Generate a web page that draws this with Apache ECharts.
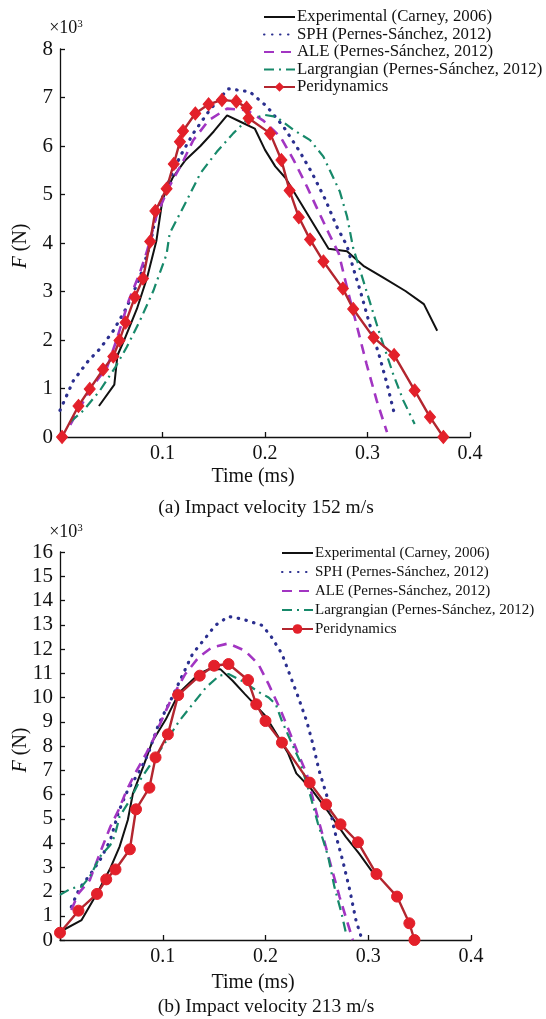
<!DOCTYPE html>
<html>
<head>
<meta charset="utf-8">
<script src="https://cdn.jsdelivr.net/npm/echarts@6/dist/echarts.min.js"></script>
<style>
html,body{margin:0;padding:0;background:#fff;}
#chart{width:546px;height:1019px;}
</style>
</head>
<body>
<div id="chart"></div>
<script>
// ---------- data (time in ms, force in x10^3 N) ----------
const seriesNames = ['Experimental (Carney, 2006)','SPH (Pernes-Sánchez, 2012)','ALE (Pernes-Sánchez, 2012)','Largrangian (Pernes-Sánchez, 2012)','Peridynamics'];
const xTicks = [0, 0.1, 0.2, 0.3, 0.4];
const yMaxA = 8, yMaxB = 16;

// (a) Impact velocity 152 m/s
const expA = [[0.038,0.64],[0.053,1.08],[0.056,1.68],[0.063,2.02],[0.075,2.64],[0.085,3.29],[0.094,4.04],[0.100,4.90],[0.110,5.35],[0.122,5.70],[0.137,6.00],[0.150,6.30],[0.163,6.63],[0.176,6.50],[0.190,6.36],[0.200,5.92],[0.210,5.58],[0.220,5.34],[0.239,4.68],[0.262,3.88],[0.280,3.83],[0.296,3.53],[0.315,3.29],[0.337,3.01],[0.355,2.74],[0.368,2.19]];
const sphA = [[0.000,0.55],[0.013,1.16],[0.028,1.58],[0.039,1.82],[0.052,2.19],[0.065,2.67],[0.078,3.29],[0.088,3.97],[0.094,4.62],[0.104,5.16],[0.117,5.78],[0.130,6.26],[0.146,6.74],[0.164,7.18],[0.185,7.12],[0.202,6.81],[0.218,6.40],[0.234,5.88],[0.246,5.44],[0.259,4.89],[0.270,4.34],[0.280,3.94],[0.286,3.49],[0.293,3.01],[0.302,2.33],[0.312,1.64],[0.319,1.10],[0.327,0.41]];
const aleA = [[0.010,0.25],[0.016,0.48],[0.031,1.03],[0.046,1.44],[0.055,1.99],[0.067,2.81],[0.078,3.39],[0.085,3.84],[0.094,4.55],[0.105,5.10],[0.119,5.64],[0.130,6.12],[0.145,6.53],[0.163,6.77],[0.182,6.74],[0.198,6.53],[0.215,6.19],[0.228,5.71],[0.241,5.16],[0.250,4.75],[0.262,4.21],[0.272,3.78],[0.280,3.08],[0.290,2.26],[0.299,1.51],[0.309,0.75],[0.319,0.10]];
const larA = [[0.010,0.31],[0.023,0.55],[0.039,0.96],[0.054,1.44],[0.065,1.85],[0.078,2.40],[0.091,3.01],[0.104,3.77],[0.107,4.20],[0.124,4.89],[0.137,5.44],[0.153,5.88],[0.169,6.26],[0.182,6.53],[0.200,6.64],[0.211,6.60],[0.228,6.33],[0.244,6.12],[0.257,5.78],[0.273,5.06],[0.280,4.55],[0.286,3.90],[0.299,3.01],[0.312,2.12],[0.325,1.30],[0.335,0.75],[0.346,0.27]];
const periA = [[0.002,0],[0.018,0.64],[0.029,0.99],[0.042,1.39],[0.052,1.66],[0.058,1.99],[0.064,2.36],[0.073,2.88],[0.081,3.27],[0.088,4.03],[0.093,4.66],[0.104,5.12],[0.111,5.63],[0.117,6.09],[0.120,6.31],[0.132,6.67],[0.145,6.86],[0.158,6.95],[0.172,6.92],[0.182,6.79],[0.184,6.57],[0.205,6.26],[0.216,5.71],[0.224,5.08],[0.233,4.53],[0.244,4.07],[0.257,3.62],[0.276,3.06],[0.286,2.64],[0.306,2.05],[0.326,1.69],[0.346,0.96],[0.361,0.41],[0.374,0]];

// (b) Impact velocity 213 m/s
const expB = [[0.000,0.34],[0.021,0.82],[0.036,1.92],[0.049,2.96],[0.058,3.85],[0.066,4.95],[0.071,6.05],[0.081,7.15],[0.090,8.20],[0.103,9.10],[0.116,10.20],[0.135,10.97],[0.145,11.17],[0.156,11.17],[0.168,10.69],[0.180,10.14],[0.200,9.24],[0.213,8.34],[0.222,7.70],[0.230,6.87],[0.244,6.25],[0.261,5.29],[0.278,4.26],[0.291,3.57],[0.305,2.75]];
const sphB = [[0.011,1.37],[0.019,2.13],[0.029,2.68],[0.039,3.30],[0.049,4.12],[0.057,5.29],[0.066,6.19],[0.078,7.00],[0.086,7.70],[0.096,8.90],[0.109,10.00],[0.122,11.17],[0.129,11.80],[0.142,12.48],[0.151,12.97],[0.164,13.34],[0.177,13.24],[0.197,12.97],[0.206,12.48],[0.216,11.80],[0.224,10.90],[0.232,10.00],[0.240,9.03],[0.246,8.10],[0.252,7.01],[0.261,5.77],[0.267,4.54],[0.275,3.30],[0.282,2.06],[0.288,0.82],[0.293,0.14]];
const aleB = [[0.011,1.24],[0.018,1.92],[0.029,2.47],[0.040,3.71],[0.049,4.67],[0.057,5.36],[0.065,6.19],[0.074,6.94],[0.084,7.70],[0.090,8.20],[0.103,9.45],[0.109,10.00],[0.122,10.97],[0.135,11.66],[0.148,12.07],[0.164,12.23],[0.180,11.93],[0.193,11.38],[0.203,10.55],[0.215,9.45],[0.223,8.62],[0.232,7.66],[0.240,6.87],[0.248,5.50],[0.256,4.26],[0.264,3.02],[0.272,1.79],[0.280,0.69],[0.285,0]];
const larB = [[0.000,1.86],[0.011,2.13],[0.021,2.20],[0.029,2.61],[0.039,3.44],[0.049,3.92],[0.053,4.26],[0.058,5.09],[0.068,5.77],[0.078,6.60],[0.091,7.42],[0.104,8.25],[0.116,9.03],[0.129,9.72],[0.142,10.41],[0.155,10.90],[0.164,10.97],[0.177,10.69],[0.194,10.21],[0.203,10.00],[0.210,9.72],[0.216,9.03],[0.226,8.07],[0.233,7.42],[0.243,6.05],[0.251,4.81],[0.261,3.44],[0.267,2.20],[0.274,1.10],[0.278,0.34]];
const periB = [[0.000,0.30],[0.018,1.21],[0.036,1.90],[0.045,2.50],[0.054,2.91],[0.068,3.74],[0.074,5.39],[0.087,6.28],[0.093,7.53],[0.105,8.48],[0.115,10.10],[0.136,10.90],[0.150,11.31],[0.164,11.38],[0.183,10.72],[0.191,9.72],[0.200,9.03],[0.216,8.14],[0.243,6.49],[0.259,5.59],[0.273,4.77],[0.290,4.03],[0.308,2.72],[0.328,1.79],[0.340,0.69],[0.345,0]];

// ---------- styling ----------
const FONT = '"Liberation Serif","Times New Roman",serif';
const colors = ['#111111','#2b2f8f','#a235c2','#17896a','#b3262f'];
const lineTypes = [
  {type:'solid', width:2},
  {type:[0.5,7.5], width:3.2, cap:'round'},
  {type:[10,7], width:2.6},
  {type:[10,5,2,5], width:2.2},
  {type:'solid', width:2.4}
];
const PREFIX_B = 'B:';

function mkSeries(data, idx, gi, marker){
  const s = {
    name: (gi === 1 ? PREFIX_B : '') + seriesNames[idx], type:'line', xAxisIndex:gi, yAxisIndex:gi,
    data: data, smooth:false, animation:false, clip:true,
    lineStyle: Object.assign({color: colors[idx]}, lineTypes[idx]),
    itemStyle: {color: colors[idx]},
    symbol: 'none', z: 2 + idx
  };
  if (marker) {
    s.symbol = marker;
    s.symbolSize = marker === 'diamond' ? [11,13] : 11;
    s.showSymbol = true;
    s.itemStyle = {color:'#e3202a', borderColor:'#e3202a'};
  }
  return s;
}

function xAxis(gi){
  return {
    gridIndex:gi, type:'value', min:0, max:0.4, interval:0.1,
    axisLine:{show:true, lineStyle:{color:'#111', width:1.3}},
    axisTick:{show:true, inside:true, length:5, lineStyle:{color:'#111', width:1.3}},
    axisLabel:{fontFamily:FONT, fontSize:20, color:'#111', margin:7,
      formatter: v => v === 0 ? '' : String(+v.toFixed(1))},
    splitLine:{show:false}
  };
}
function yAxis(gi, max){
  return {
    gridIndex:gi, type:'value', min:0, max:max, interval:1,
    axisLine:{show:true, lineStyle:{color:'#111', width:1.3}},
    axisTick:{show:true, inside:true, length:5, lineStyle:{color:'#111', width:1.3}},
    axisLabel:{fontFamily:FONT, fontSize:21, color:'#111', margin:7},
    splitLine:{show:false}
  };
}

function txt(x, y, text, size, rot, rich){
  return {
    type:'text', x:x, y:y, rotation: rot || 0,
    style:{text:text, fontFamily:FONT, fontSize:size, fill:'#111',
      align:'center', verticalAlign:'middle', rich: rich}
  };
}
const supRich = {b:{fontFamily:FONT, fontSize:18, fill:'#111'}, s:{fontFamily:FONT, fontSize:11, fill:'#111', verticalAlign:'top', padding:[0,0,8,0]}};
const fRich = {i:{fontFamily:FONT, fontSize:20, fontStyle:'italic', fill:'#111'}, n:{fontFamily:FONT, fontSize:20, fill:'#111'}};

function legend(prefix, left, top, gap, fs){
  return {
    show:true, orient:'vertical', left:left, top:top, itemWidth:31, itemHeight:12,
    itemGap:gap, padding:0, selectedMode:false,
    textStyle:{fontFamily:FONT, fontSize:fs, lineHeight:fs, color:'#111', padding:[0,0,0,-3]},
    formatter: n => n.indexOf(PREFIX_B) === 0 ? n.slice(PREFIX_B.length) : n,
    data: seriesNames.map((n, i) => {
      const item = {name: prefix + n};
      if (i !== 4) item.itemStyle = {opacity:0, color:'rgba(0,0,0,0)', borderWidth:0};
      return item;
    })
  };
}

const chart = echarts.init(document.getElementById('chart'), null, {renderer:'canvas'});
const seriesA = [expA, sphA, aleA, larA, periA].map((d,i) => mkSeries(d, i, 0, i===4 ? 'diamond' : null));
const seriesB = [expB, sphB, aleB, larB, periB].map((d,i) => mkSeries(d, i, 1, i===4 ? 'circle' : null));
const option = {
  backgroundColor:'#fff',
  animation:false,
  grid:[
    {left:60, top:49, width:410, height:388},
    {left:60, top:552, width:411, height:388}
  ],
  xAxis:[xAxis(0), xAxis(1)],
  yAxis:[yAxis(0, yMaxA), yAxis(1, yMaxB)],
  legend:[
    legend('', 263, 8.5, 0.5, 16.8),
    legend(PREFIX_B, 281, 545.5, 4, 15)
  ],
  graphic:[
    txt(66, 28, '{b|×10}{s|3}', 18, 0, supRich),
    txt(66, 532, '{b|×10}{s|3}', 18, 0, supRich),
    txt(21, 246, '{i|F}{n| (N)}', 20, Math.PI/2, fRich),
    txt(21, 750, '{i|F}{n| (N)}', 20, Math.PI/2, fRich),
    txt(253, 477, 'Time (ms)', 20),
    txt(266, 508, '(a) Impact velocity 152 m/s', 19.5),
    txt(253, 983, 'Time (ms)', 20),
    txt(266, 1007, '(b) Impact velocity 213 m/s', 19.5)
  ],
  series: seriesA.concat(seriesB)
};
chart.setOption(option);
</script>
</body>
</html>
